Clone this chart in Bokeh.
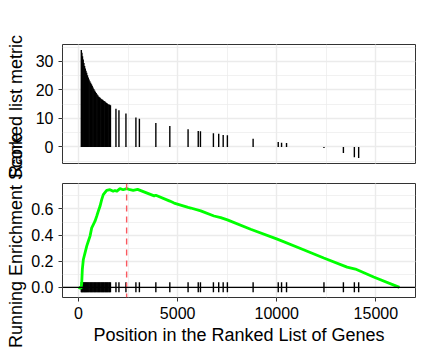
from math import pi
from bokeh.plotting import figure
from bokeh.layouts import column, row
from bokeh.models import Range1d, SingleIntervalTicker, PrintfTickFormatter, Span, Label
from bokeh.embed import file_html
from bokeh.resources import INLINE

# ---------------- data ----------------
n_genes = 16190
es_position = 2426

hit_position = [
    140, 170, 200, 235, 270, 305, 340, 375, 410, 450, 490, 530, 570, 610,
    650, 690, 730, 770, 810, 850, 890, 930, 970, 1010, 1050, 1090, 1130,
    1170, 1210, 1250, 1290, 1330, 1370, 1410, 1450, 1490, 1530, 1570, 1610,
    1887, 2038, 2391, 2894, 3070, 3900, 4605, 5526, 6039, 6150, 6804, 7071,
    7297, 7509, 8807, 10075, 10242, 10493, 12381, 13362, 13915, 14132,
]
hit_metric = [
    34.0, 33.0, 31.8, 30.6, 29.4, 28.4, 27.5, 26.7, 26.0, 25.1, 24.3, 23.6,
    23.0, 22.5, 22.0, 21.4, 20.8, 20.3, 19.8, 19.3, 18.9, 18.5, 18.1, 17.7,
    17.4, 17.2, 16.9, 16.7, 16.5, 16.3, 16.1, 15.9, 15.7, 15.4, 15.2, 15.0,
    14.9, 14.8, 14.6,
    13.4, 12.9, 11.7, 10.3, 9.9, 8.4, 7.3, 6.2, 5.6, 5.5, 4.8, 4.6,
    4.2, 4.1, 2.9, 1.7, 1.5, 1.4, -0.4, -2.1, -3.6, -3.9,
]

rs_x = [
    0, 130, 161, 191, 242, 327, 413, 493, 579, 664, 745, 830, 916, 996,
    1082, 1168, 1248, 1419, 1585, 1751, 1837, 1922, 2089, 2255, 2426, 2592,
    2758, 2979, 3815, 3900, 4605, 4821, 5526, 5662, 6165, 6834, 7172, 7509,
    8682, 10025, 11198, 12371, 13548, 13966, 14887, 16190,
]
rs_y = [
    0.0, -0.008, 0.035, 0.137, 0.213, 0.264, 0.315, 0.353, 0.392, 0.455,
    0.48, 0.506, 0.544, 0.582, 0.62, 0.671, 0.709, 0.742, 0.747, 0.735,
    0.742, 0.735, 0.755, 0.747, 0.755, 0.747, 0.742, 0.75, 0.70, 0.705,
    0.66, 0.645, 0.612, 0.607, 0.585, 0.546, 0.534, 0.516, 0.445, 0.369,
    0.297, 0.224, 0.155, 0.14, 0.079, 0.0,
]

x_label = "Position in the Ranked List of Genes"
y1_label = "Ranked list metric"
y2_label = "Running Enrichment Score"

FONT = "Liberation Sans"
W, H = 423, 352
LABEL_W = 28

# ---------------- ranges (ggplot-like 5% expansion) ----------------
x_lo, x_hi = 0, n_genes
xr = Range1d(x_lo - 0.05 * (x_hi - x_lo), x_hi + 0.05 * (x_hi - x_lo))

m_lo, m_hi = min(min(hit_metric), 0), max(hit_metric)
yr1 = Range1d(m_lo - 0.05 * (m_hi - m_lo), m_hi + 0.05 * (m_hi - m_lo))

tick_h = (max(rs_y) - min(rs_y)) / 20
r_lo, r_hi = min(min(rs_y), -tick_h), max(max(rs_y), tick_h)
yr2 = Range1d(r_lo - 0.05 * (r_hi - r_lo), r_hi + 0.05 * (r_hi - r_lo))


def style(p):
    p.background_fill_color = "white"
    p.border_fill_color = "white"
    p.outline_line_color = "#333333"
    p.outline_line_width = 1
    p.grid.grid_line_color = "#EBEBEB"
    p.grid.grid_line_width = 1.4
    p.grid.minor_grid_line_color = "#EBEBEB"
    p.grid.minor_grid_line_width = 0.7
    for ax in p.axis:
        ax.axis_line_color = None
        ax.major_tick_line_color = "#333333"
        ax.major_tick_line_width = 1
        ax.major_tick_out = 4
        ax.major_tick_in = 0
        ax.minor_tick_line_color = None
        ax.major_label_text_font = FONT
        ax.major_label_text_font_size = "16px"
        ax.major_label_text_color = "black"
        ax.axis_label_text_font = FONT
        ax.axis_label_text_font_size = "18px"
        ax.axis_label_text_font_style = "normal"
        ax.axis_label_text_color = "black"


x_ticker = SingleIntervalTicker(interval=5000, num_minor_ticks=2)
PW = W - LABEL_W
BL = 61 - LABEL_W

# ---------------- top panel ----------------
p1 = figure(width=PW, height=176, output_backend="svg", toolbar_location=None,
            x_range=xr, y_range=yr1,
            min_border_left=BL, min_border_right=8, min_border_top=44,
            min_border_bottom=13)
p1.segment(x0=hit_position, y0=[0] * len(hit_position), x1=hit_position,
           y1=hit_metric, line_color="black", line_width=1.4)
style(p1)
p1.xaxis.visible = False
p1.xgrid.ticker = x_ticker
p1.yaxis.ticker = SingleIntervalTicker(interval=10, num_minor_ticks=2)
p1.yaxis.major_label_standoff = 5

# ---------------- bottom panel ----------------
p2 = figure(width=PW, height=176, output_backend="svg", toolbar_location=None,
            x_range=xr, y_range=yr2,
            min_border_left=BL, min_border_right=8, min_border_top=7,
            min_border_bottom=55)
p2.segment(x0=hit_position, y0=[-tick_h] * len(hit_position), x1=hit_position,
           y1=[tick_h] * len(hit_position), line_color="black", line_width=1.4)
p2.line(rs_x, rs_y, line_color="#00FF00", line_width=2.8)
p2.add_layout(Span(location=es_position, dimension="height",
                   line_color="#FA5860", line_width=1.4, line_dash="6 5"))
p2.add_layout(Span(location=0, dimension="width", line_color="black",
                   line_width=1.2))
style(p2)
p2.xaxis.ticker = x_ticker
p2.xaxis.formatter = PrintfTickFormatter(format="%d")
p2.xaxis.axis_label = x_label
p2.xaxis.major_label_standoff = 5
p2.xaxis.axis_label_standoff = 3
p2.yaxis.ticker = SingleIntervalTicker(interval=0.2, num_minor_ticks=2)
p2.yaxis.formatter = PrintfTickFormatter(format="%.1f")
p2.yaxis.major_label_standoff = 5

# ---------------- shared strip for the two y-axis titles ----------------
lab = figure(width=LABEL_W, height=H, output_backend="svg", toolbar_location=None,
             x_range=Range1d(0, LABEL_W), y_range=Range1d(0, H),
             min_border=0, outline_line_color=None)
lab.axis.visible = False
lab.grid.visible = False
lab.background_fill_color = "white"
lab.border_fill_color = "white"
for txt, yc in ((y1_label, H - 106), (y2_label, H - 240)):
    lab.add_layout(Label(x=15, y=yc, text=txt, angle=pi / 2,
                         text_align="center", text_baseline="middle",
                         text_font=FONT, text_font_size="18px",
                         text_color="black"))

layout = row(lab, column(p1, p2, spacing=0), spacing=0)
open("out.html", "w").write(file_html(layout, INLINE))
